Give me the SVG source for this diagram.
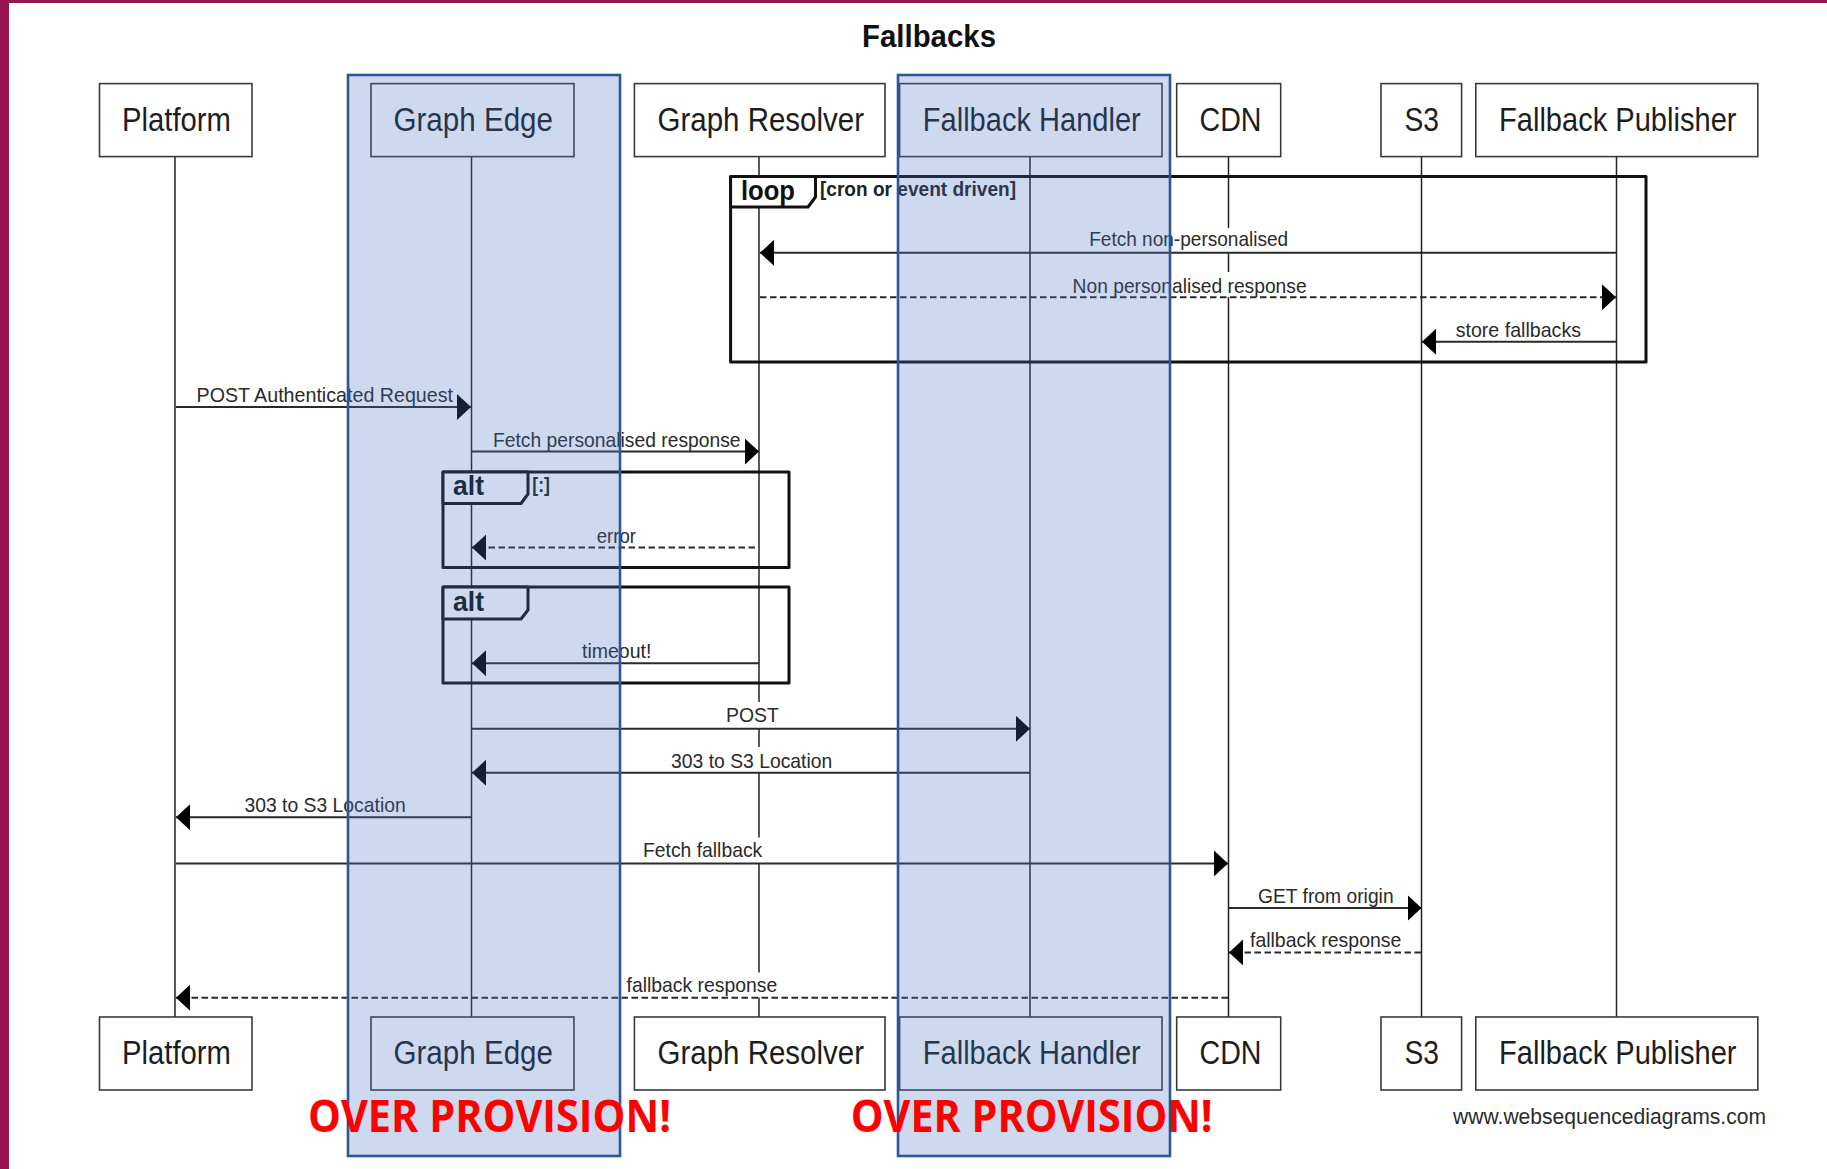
<svg xmlns="http://www.w3.org/2000/svg" width="1827" height="1169" viewBox="0 0 1827 1169">
<style>
text{font-family:"Liberation Sans",Arial,sans-serif;fill:#1d1d1d}
.box{fill:#fff;stroke:#3a3a3a;stroke-width:1.6}
.nl{font-size:33px}
.life{stroke:#222;stroke-width:1.5;fill:none}
.msg{stroke:#2a2a2a;stroke-width:2;fill:none;marker-end:url(#head)}
.dash{stroke-dasharray:6.5 3.5}
.lbl{font-size:21px;fill:#2a2a2a}
.halo{fill:#fff}
.frame{fill:none;stroke:#111;stroke-width:3;stroke-linejoin:round}
.tab{fill:#fff;stroke:#111;stroke-width:3;stroke-linejoin:round}
.fk{font-size:28px;font-weight:bold;fill:#111}
.fc{font-size:20.5px;font-weight:bold;fill:#222}
.band{fill:#4472c4;fill-opacity:.27;stroke:#2f5597;stroke-width:2.6}
.over{font-family:"Open Sans","Liberation Sans",sans-serif;font-size:44px;font-weight:bold;fill:#f00}
</style>
<defs>
<marker id="head" markerUnits="userSpaceOnUse" markerWidth="14" markerHeight="26" refX="14" refY="13" orient="auto" viewBox="0 0 14 26"><path d="M0,0L14,13L0,26z" fill="#000"/></marker>
</defs>
<rect width="1827" height="1169" fill="#fff"/>
<rect width="1827" height="3" fill="#97144f"/>
<rect width="9" height="1169" fill="#97144f"/>
<text x="862" y="47" font-size="31" font-weight="bold" textLength="134" lengthAdjust="spacingAndGlyphs" style="fill:#111">Fallbacks</text>

<g id="lifelines">
<path class="life" d="M175,157V1017M471.5,157V1017M759,157V1017M1030,157V1017M1228.5,157V1017M1421.5,157V1017M1616.5,157V1017"/>
</g>

<g id="frames">
<g id="frame-loop">
<rect class="frame" x="730.6" y="176.5" width="915.4" height="185.5"/>
<path class="tab" d="M730.6,176.5H815.5V197L808,207H730.6z"/>
<text class="fk" x="741" y="200" textLength="54" lengthAdjust="spacingAndGlyphs">loop</text>
<text class="fc" x="820" y="196" textLength="196" lengthAdjust="spacingAndGlyphs">[cron or event driven]</text>
</g>
<g id="frame-alt1">
<rect class="frame" x="443" y="472" width="346" height="95.5"/>
<path class="tab" d="M443,472H528V494L521,503.5H443z"/>
<text class="fk" x="453" y="495" textLength="31" lengthAdjust="spacingAndGlyphs">alt</text>
<text class="fc" x="532.3" y="492" textLength="17.6" lengthAdjust="spacingAndGlyphs">[:]</text>
</g>
<g id="frame-alt2">
<rect class="frame" x="443" y="587" width="346" height="96"/>
<path class="tab" d="M443,587H528V610L521,619H443z"/>
<text class="fk" x="453" y="611" textLength="31" lengthAdjust="spacingAndGlyphs">alt</text>
</g>
</g>

<g id="connectors">
<rect class="halo" x="1089" y="228" width="200" height="25"/>
<path class="msg" d="M1616.5,252.8H760"/>
<text class="lbl" x="1089.2" y="246" textLength="199" lengthAdjust="spacingAndGlyphs">Fetch non-personalised</text>
<rect class="halo" x="1072" y="272" width="235" height="25"/>
<path class="msg dash" d="M760,297.2H1616"/>
<text class="lbl" x="1072.6" y="292.5" textLength="234" lengthAdjust="spacingAndGlyphs">Non personalised response</text>
<path class="msg" d="M1616.5,341.7H1422"/>
<text class="lbl" x="1455.7" y="336.8" textLength="125.3" lengthAdjust="spacingAndGlyphs">store fallbacks</text>
<path class="msg" d="M176,407H471"/>
<text class="lbl" x="196.6" y="402.2" textLength="256.4" lengthAdjust="spacingAndGlyphs">POST Authenticated Request</text>
<path class="msg" d="M472,451.6H759"/>
<text class="lbl" x="493" y="447" textLength="247.6" lengthAdjust="spacingAndGlyphs">Fetch personalised response</text>
<path class="msg dash" d="M755,547.6H472"/>
<text class="lbl" x="596.8" y="542.7" textLength="39.2" lengthAdjust="spacingAndGlyphs">error</text>
<path class="msg" d="M759,663.2H472"/>
<text class="lbl" x="582" y="658" textLength="69.4" lengthAdjust="spacingAndGlyphs">timeout!</text>
<rect class="halo" x="726" y="702" width="54" height="26"/>
<path class="msg" d="M472,728.8H1030"/>
<text class="lbl" x="726" y="722" textLength="52.8" lengthAdjust="spacingAndGlyphs">POST</text>
<rect class="halo" x="671" y="747" width="162" height="26"/>
<path class="msg" d="M1030,772.8H472"/>
<text class="lbl" x="671" y="767.8" textLength="161.3" lengthAdjust="spacingAndGlyphs">303 to S3 Location</text>
<path class="msg" d="M471,817.2H176"/>
<text class="lbl" x="244.4" y="812" textLength="161.3" lengthAdjust="spacingAndGlyphs">303 to S3 Location</text>
<rect class="halo" x="643" y="837.5" width="120" height="26"/>
<path class="msg" d="M176,863.4H1228"/>
<text class="lbl" x="643" y="856.9" textLength="119.2" lengthAdjust="spacingAndGlyphs">Fetch fallback</text>
<path class="msg" d="M1228,908H1421.5"/>
<text class="lbl" x="1258" y="902.5" textLength="135.6" lengthAdjust="spacingAndGlyphs">GET from origin</text>
<path class="msg dash" d="M1421,952.4H1229"/>
<text class="lbl" x="1250" y="947" textLength="151.3" lengthAdjust="spacingAndGlyphs">fallback response</text>
<rect class="halo" x="626" y="972.5" width="152" height="25"/>
<path class="msg dash" d="M1228,997.8H176"/>
<text class="lbl" x="626.5" y="991.5" textLength="150.8" lengthAdjust="spacingAndGlyphs">fallback response</text>
</g>

<g id="node-platform">
<rect class="box" x="99.5" y="83.6" width="152.5" height="73"/>
<text class="nl" x="122" y="130.5" textLength="109" lengthAdjust="spacingAndGlyphs">Platform</text>
<rect class="box" x="99.5" y="1017" width="152.5" height="73"/>
<text class="nl" x="122" y="1063.5" textLength="109" lengthAdjust="spacingAndGlyphs">Platform</text>
</g>
<g id="node-graph-edge">
<rect class="box" x="371" y="83.6" width="203" height="73"/>
<text class="nl" x="393.5" y="130.5" textLength="159.5" lengthAdjust="spacingAndGlyphs">Graph Edge</text>
<rect class="box" x="371" y="1017" width="203" height="73"/>
<text class="nl" x="393.5" y="1063.5" textLength="159.5" lengthAdjust="spacingAndGlyphs">Graph Edge</text>
</g>
<g id="node-graph-resolver">
<rect class="box" x="634.4" y="83.6" width="250.6" height="73"/>
<text class="nl" x="657.5" y="130.5" textLength="206.5" lengthAdjust="spacingAndGlyphs">Graph Resolver</text>
<rect class="box" x="634.4" y="1017" width="250.6" height="73"/>
<text class="nl" x="657.5" y="1063.5" textLength="206.5" lengthAdjust="spacingAndGlyphs">Graph Resolver</text>
</g>
<g id="node-fallback-handler">
<rect class="box" x="899.6" y="83.6" width="262.4" height="73"/>
<text class="nl" x="922.8" y="130.5" textLength="218" lengthAdjust="spacingAndGlyphs">Fallback Handler</text>
<rect class="box" x="899.6" y="1017" width="262.4" height="73"/>
<text class="nl" x="922.8" y="1063.5" textLength="218" lengthAdjust="spacingAndGlyphs">Fallback Handler</text>
</g>
<g id="node-cdn">
<rect class="box" x="1176.7" y="83.6" width="104" height="73"/>
<text class="nl" x="1199.5" y="130.5" textLength="62" lengthAdjust="spacingAndGlyphs">CDN</text>
<rect class="box" x="1176.7" y="1017" width="104" height="73"/>
<text class="nl" x="1199.5" y="1063.5" textLength="62" lengthAdjust="spacingAndGlyphs">CDN</text>
</g>
<g id="node-s3">
<rect class="box" x="1381" y="83.6" width="80.6" height="73"/>
<text class="nl" x="1404.5" y="130.5" textLength="34.5" lengthAdjust="spacingAndGlyphs">S3</text>
<rect class="box" x="1381" y="1017" width="80.6" height="73"/>
<text class="nl" x="1404.5" y="1063.5" textLength="34.5" lengthAdjust="spacingAndGlyphs">S3</text>
</g>
<g id="node-fallback-publisher">
<rect class="box" x="1475.8" y="83.6" width="282" height="73"/>
<text class="nl" x="1499" y="130.5" textLength="237.5" lengthAdjust="spacingAndGlyphs">Fallback Publisher</text>
<rect class="box" x="1475.8" y="1017" width="282" height="73"/>
<text class="nl" x="1499" y="1063.5" textLength="237.5" lengthAdjust="spacingAndGlyphs">Fallback Publisher</text>
</g>
<text x="1453" y="1124" font-size="22.5" textLength="313" lengthAdjust="spacingAndGlyphs" style="fill:#2a2a2a">www.websequencediagrams.com</text>

<g id="overlays">
<rect class="band" x="348" y="75" width="272" height="1081"/>
<rect class="band" x="898" y="75" width="272" height="1081"/>
<text class="over" x="308" y="1132" textLength="363" lengthAdjust="spacingAndGlyphs">OVER PROVISION!</text>
<text class="over" x="850.7" y="1132" textLength="362" lengthAdjust="spacingAndGlyphs">OVER PROVISION!</text>
</g>
</svg>
